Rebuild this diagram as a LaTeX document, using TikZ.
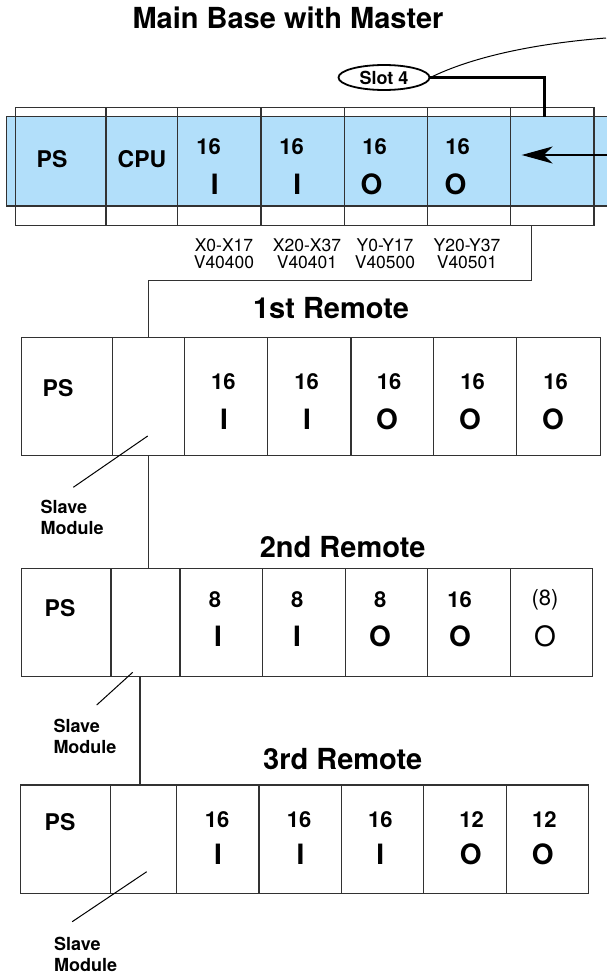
\documentclass[tikz,border=0pt]{standalone}
\usepackage{fontspec}
\setmainfont{TeX Gyre Heros}
\usepackage{xcolor}
\usetikzlibrary{positioning, shapes.geometric, arrows.meta}

\definecolor{baseblue}{RGB}{178,223,250}
\definecolor{rackline}{RGB}{50,50,50}
\newcommand{\fsz}[2]{\fontsize{#1}{#2}\selectfont}

\begin{document}
\begin{tikzpicture}[x=1pt, y=-1pt,
        cell/.style={rectangle, draw=rackline, line width=1.2pt, inner sep=0pt, outer sep=0pt},
        band/.style={rectangle, draw=rackline, fill=baseblue, line width=1.2pt, inner sep=0pt},
        title/.style={font=\fsz{29}{29}\bfseries, inner sep=0pt},
        pslbl/.style={font=\fsz{23}{23}\bfseries, inner sep=0pt},
        num/.style={font=\fsz{22}{22}\bfseries, inner sep=0pt},
        io/.style={font=\fsz{28}{28}\bfseries, inner sep=0pt},
        numreg/.style={font=\fsz{22}{22}, inner sep=0pt},
        ioreg/.style={font=\fsz{28}{28}, inner sep=0pt},
        addr/.style={font=\fsz{17.5}{17}, align=center, inner sep=0pt},
        slavelbl/.style={font=\fsz{18}{21}\bfseries, align=left, inner sep=0pt, anchor=north west},
        slotoval/.style={ellipse, draw=black, line width=1.8pt, minimum width=91, minimum height=25, inner sep=0pt, font=\fsz{18}{18}\bfseries},
        link/.style={draw=rackline, line width=1.2pt},
        leader/.style={draw=black, line width=1pt},
    ]
        \useasboundingbox (0,0) rectangle (606,974);

        % Main base
        \node[title] (ttlbase) at (288,17.5) {Main Base with Master};
        \node[band, minimum width=603.3, minimum height=89.3] (band) at (308.35,161.35) {};
        \foreach \n/\l/\r in {b1/15.3/106, b2/106/177.7, b3/177.7/261, b4/261/344.3, b5/344.3/427.3, b6/427.3/510.7, b7/510.7/594}
            \node[cell, minimum width={\r-\l}, minimum height=118.4] (\n) at ({(\l+\r)/2},166.5) {};
        \node[pslbl] (bps) at (52,159) {PS};
        \node[pslbl] (bcpu) at (142,159) {CPU};
        \foreach \xn/\xl/\t [count=\i] in {208.5/214.7/I, 291.5/297.3/I, 374.5/371.4/O, 457.5/455.6/O} {
            \node[num] (bnum\i) at (\xn,147) {16};
            \node[io] (bio\i) at (\xl,184) {\t};
        }
        \foreach \x/\a/\v [count=\i] in {224/X0-X17/V40400, 307/X20-X37/V40401, 385/Y0-Y17/V40500, 467/Y20-Y37/V40501}
            \node[addr] (addr\i) at (\x,254) {\a\\\v};

        % Slot 4 marker and arrow
        \node[slotoval] (slot) at (384,77.5) {Slot 4};
        \coordinate (slotdrop) at (544.3,116.7);
        \coordinate (linkend) at (606,38);
        \coordinate (arrowtail) at (608,155);
        \coordinate (arrowtip) at (521.7,155);
        \draw[line width=2.6pt] (slot.east) -| (slotdrop);
        \draw[line width=1pt] (slot.east) .. controls (470,58) and (530,44) .. (linkend);
        \draw[line width=1.2pt, -{Stealth[length=31pt, width=17pt, inset=9pt]}] (arrowtail) -- (arrowtip);

        % 1st remote
        \node[title] (ttlr1) at (331,308) {1st Remote};
        \foreach \n/\l/\r in {r1a/21.3/112.7, r1b/112.7/184.3, r1c/184.3/267.7, r1d/267.7/351, r1e/351/433.3, r1f/433.3/516.7, r1g/516.7/600.7}
            \node[cell, minimum width={\r-\l}, minimum height=118] (\n) at ({(\l+\r)/2},396.7) {};
        \node[pslbl] (r1ps) at (58,388.3) {PS};
        \foreach \xn/\xl/\t [count=\i] in {223.3/224/I, 306.7/307/I, 389/387/O, 472.7/470/O, 555.7/553/O} {
            \node[num] (r1num\i) at (\xn,381.7) {16};
            \node[io] (r1io\i) at (\xl,419) {\t};
        }

        % 2nd remote
        \node[title] (ttlr2) at (342.6,547) {2nd Remote};
        \foreach \n/\l/\r in {r2a/21.3/111, r2b/111/180, r2c/180/262.7, r2d/262.7/345.6, r2e/345.6/427.8, r2f/427.8/510.6, r2g/510.6/592.7}
            \node[cell, minimum width={\r-\l}, minimum height=108] (\n) at ({(\l+\r)/2},622.7) {};
        \node[pslbl] (r2ps) at (60,608.3) {PS};
        \foreach \xn/\v/\xl/\t [count=\i] in {215/8/218/I, 297.3/8/297/I, 380.3/8/380/O, 459.5/16/460/O} {
            \node[num] (r2num\i) at (\xn,600) {\v};
            \node[io] (r2io\i) at (\xl,636.7) {\t};
        }
        \node[numreg] (r2num5) at (545,600) {(8)};
        \node[ioreg] (r2io5) at (545,636.7) {O};

        % 3rd remote
        \node[title] (ttlr3) at (342.7,759) {3rd Remote};
        \foreach \n/\l/\r in {r3a/20.8/110.8, r3b/110.8/176.8, r3c/176.8/259, r3d/259/341.5, r3e/341.5/423.8, r3f/423.8/506.3, r3g/506.3/588.5}
            \node[cell, minimum width={\r-\l}, minimum height=108.3] (\n) at ({(\l+\r)/2},839.15) {};
        \node[pslbl] (r3ps) at (60,821.7) {PS};
        \foreach \xn/\v/\xl/\t [count=\i] in {217/16/218/I, 299.2/16/300.4/I, 380.3/16/380.3/I, 471.7/12/470.7/O, 544.3/12/542.7/O} {
            \node[num] (r3num\i) at (\xn,820) {\v};
            \node[io] (r3io\i) at (\xl,854.5) {\t};
        }

        % Links between racks
        \coordinate (drop23) at ([xshift=-5.5pt]r2b.south);
        \draw[link] ([xshift=-20.5pt]b7.south) -- ++(0,55) -| (r1b.north);
        \draw[link] (r1b.south) -- (r1b.south |- r2b.north);
        \draw[link] (drop23) -- (drop23 |- r3b.north);

        % Slave module callouts
        \node[slavelbl] (slave1) at (40.5,499.5) {Slave\\Module};
        \node[slavelbl] (slave2) at (53.3,719.2) {Slave\\Module};
        \node[slavelbl] (slave3) at (54,936.8) {Slave\\Module};
        \coordinate (pin1) at (147.7,436);
        \coordinate (pin2) at (132.7,672.3);
        \coordinate (pin3) at (146.7,871.7);
        \draw[leader] (pin1) -- ([shift={(32.8,-12.2)}]slave1.north west);
        \draw[leader] (pin2) -- ([shift={(43.4,-14.2)}]slave2.north west);
        \draw[leader] (pin3) -- ([shift={(18.2,-15.1)}]slave3.north west);
    \end{tikzpicture}
\end{document}
